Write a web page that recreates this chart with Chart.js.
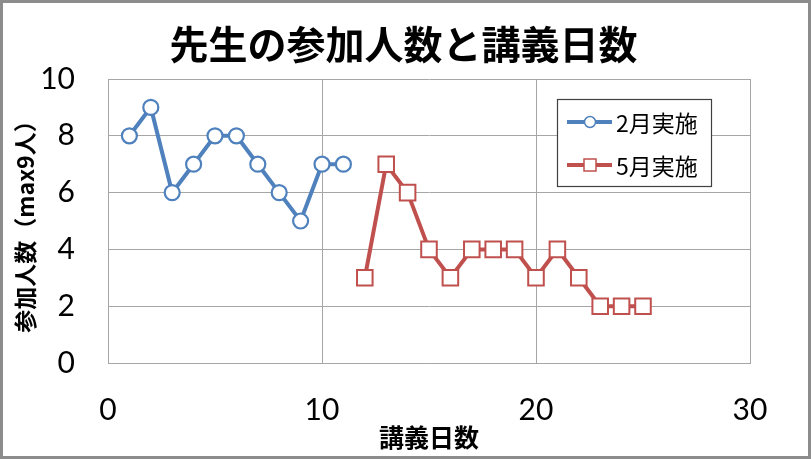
<!DOCTYPE html>
<html>
<head>
<meta charset="utf-8">
<script src="https://cdn.jsdelivr.net/npm/chart.js@4"></script>
<style>
  body { margin: 0; background: #fff; }
  #chart-lectures { display: block; }
</style>
</head>
<body>
<canvas id="chart-lectures" width="811" height="459"></canvas>
<script>
// --- Data ---
const chartTitle = '先生の参加人数と講義日数';
const xTitle = '講義日数';
const yTitle = '参加人数（max9人）';

const febLabel = '2月実施';
const febDays = [1, 2, 3, 4, 5, 6, 7, 8, 9, 10, 11];
const febCounts = [8, 9, 6, 7, 8, 8, 7, 6, 5, 7, 7];

const mayLabel = '5月実施';
const mayDays = [12, 13, 14, 15, 16, 17, 18, 19, 20, 21, 22, 23, 24, 25];
const mayCounts = [3, 7, 6, 4, 3, 4, 4, 4, 3, 4, 3, 2, 2, 2];

const xTicks = [0, 10, 20, 30];
const yTicks = [0, 2, 4, 6, 8, 10];

const BLUE = '#4F81BD';
const RED = '#C0504D';
const GRID = '#A6A6A6';
const CJK = '"Noto Sans CJK JP", sans-serif';
const NUM = 'Lato, "Liberation Sans", sans-serif';

function toPoints(xs, ys) {
    return xs.map((x, i) => ({ x: x, y: ys[i] }));
}

// white background, centred title and grey outer frame like the Excel chart area
const framePlugin = {
    id: 'frame',
    beforeDraw(chart) {
        const ctx = chart.ctx;
        ctx.save();
        ctx.fillStyle = '#fff';
        ctx.fillRect(0, 0, chart.width, chart.height);
        ctx.restore();
    },
    afterDraw(chart) {
        const ctx = chart.ctx;
        ctx.save();
        ctx.fillStyle = '#000';
        ctx.font = 'bold 39px ' + CJK;
        ctx.textAlign = 'center';
        ctx.textBaseline = 'middle';
        ctx.fillText(chartTitle, 403.5, 44);

        ctx.strokeStyle = '#8C8C8C';
        ctx.lineWidth = 3;
        ctx.strokeRect(1.5, 1.5, chart.width - 3, chart.height - 3);
        ctx.restore();
    }
};

// legend box sits inside the plot area, so draw it by hand from the datasets
const boxLegendPlugin = {
    id: 'boxLegend',
    afterDatasetsDraw(chart) {
        const ctx = chart.ctx;
        const bx = 557.5, by = 99.5, bw = 154, bh = 87;
        ctx.save();
        ctx.fillStyle = '#fff';
        ctx.fillRect(bx, by, bw, bh);
        ctx.strokeStyle = '#404040';
        ctx.lineWidth = 1.2;
        ctx.strokeRect(bx, by, bw, bh);

        chart.data.datasets.forEach((ds, i) => {
            const y = 122 + i * 43;
            ctx.strokeStyle = ds.borderColor;
            ctx.lineWidth = 4;
            ctx.beginPath();
            ctx.moveTo(567, y);
            ctx.lineTo(612, y);
            ctx.stroke();

            ctx.fillStyle = '#fff';
            ctx.lineWidth = 1.5;
            ctx.strokeStyle = ds.pointBorderColor;
            if (ds.pointStyle === 'rect') {
                ctx.fillRect(584, y - 6, 12, 12);
                ctx.strokeRect(584, y - 6, 12, 12);
            } else {
                ctx.beginPath();
                ctx.arc(590, y, 5.5, 0, Math.PI * 2);
                ctx.fill();
                ctx.stroke();
            }

            ctx.fillStyle = '#000';
            ctx.font = '23px ' + CJK;
            ctx.textBaseline = 'middle';
            ctx.textAlign = 'left';
            ctx.fillText(ds.label, 616, y + 1);
        });
        ctx.restore();
    }
};

const ctx = document.getElementById('chart-lectures').getContext('2d');
new Chart(ctx, {
    type: 'line',
    data: {
        datasets: [
            {
                label: febLabel,
                data: toPoints(febDays, febCounts),
                borderColor: BLUE,
                borderWidth: 4,
                pointStyle: 'circle',
                pointRadius: 7.5,
                pointBorderWidth: 2.2,
                pointBorderColor: BLUE,
                pointBackgroundColor: '#fff',
                tension: 0
            },
            {
                label: mayLabel,
                data: toPoints(mayDays, mayCounts),
                borderColor: RED,
                borderWidth: 4,
                pointStyle: 'rect',
                pointRadius: 11,
                pointBorderWidth: 2,
                pointBorderColor: RED,
                pointBackgroundColor: '#fff',
                tension: 0
            }
        ]
    },
    options: {
        responsive: false,
        devicePixelRatio: 1,
        animation: false,
        layout: { padding: { top: 79, right: 61, bottom: 0, left: 0 } },
        plugins: {
            legend: { display: false },
            tooltip: { enabled: false },
            title: { display: false }
        },
        scales: {
            x: {
                type: 'linear',
                min: xTicks[0],
                max: xTicks[xTicks.length - 1],
                afterBuildTicks: scale => { scale.ticks = xTicks.map(v => ({ value: v })); },
                afterFit: scale => { scale.height = 96; },
                grid: { color: GRID, lineWidth: 1, drawTicks: false },
                border: { color: GRID, width: 1 },
                ticks: {
                    color: '#000',
                    padding: 29,
                    font: { family: NUM, size: 30 }
                },
                title: {
                    display: true,
                    text: xTitle,
                    color: '#000',
                    font: { family: CJK, size: 25, weight: 'bold' },
                    padding: { top: 0, bottom: 7 }
                }
            },
            y: {
                min: yTicks[0],
                max: yTicks[yTicks.length - 1],
                afterBuildTicks: scale => { scale.ticks = yTicks.map(v => ({ value: v })); },
                afterFit: scale => { scale.width = 108; },
                grid: { color: GRID, lineWidth: 1, drawTicks: false },
                border: { color: GRID, width: 1 },
                ticks: {
                    color: '#000',
                    padding: 33,
                    font: { family: NUM, size: 30 }
                },
                title: {
                    display: true,
                    text: yTitle,
                    color: '#000',
                    font: { family: CJK, size: 23, weight: 'bold' },
                    padding: { top: 11, bottom: 0 }
                }
            }
        }
    },
    plugins: [framePlugin, boxLegendPlugin]
});
</script>
</body>
</html>
